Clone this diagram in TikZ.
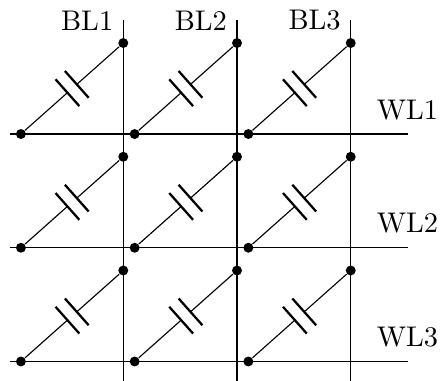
\documentclass[tikz,border=0pt]{standalone}
\usetikzlibrary{calc}

\begin{document}
\begin{tikzpicture}[x=40pt, y=40pt,
        dot/.style={circle, fill, inner sep=0pt, minimum size=3.5pt},
        plate/.style={thick}]
    \useasboundingbox (-0.084,-3.164) rectangle (3.785,0.1785);

    % word lines
    \foreach \j in {1,2,3} {
        \coordinate (wa\j) at (0,-\j);
        \coordinate (wb\j) at (3.5,-\j);
        \draw (wa\j) -- (wb\j);
        \node[above=1.5pt] (WL\j) at (wb\j) {WL\j};
    }

    % bit lines
    \foreach \i in {1,2,3} {
        \coordinate (ba\i) at (\i,0);
        \coordinate (bb\i) at (\i,-3.17);
        \draw (ba\i) -- (bb\i);
        \node[left] (BL\i) at (ba\i) {BL\i};
    }

    % cells
    \foreach \i in {1,2,3} {
        \foreach \j in {1,2,3} {
            \node[dot] (s\i\j) at (\i-0.9,-\j) {};
            \node[dot] (t\i\j) at (\i,-\j+0.8) {};
            \coordinate (m\i\j) at ($(s\i\j)!0.5!(t\i\j)$);
            \coordinate (p\i\j) at ($(m\i\j)!2.2pt!(s\i\j)$);
            \coordinate (q\i\j) at ($(m\i\j)!2.2pt!(t\i\j)$);
            \coordinate (pa\i\j) at ($(p\i\j)!6.3pt!90:(t\i\j)$);
            \coordinate (pb\i\j) at ($(p\i\j)!6.3pt!-90:(t\i\j)$);
            \coordinate (qa\i\j) at ($(q\i\j)!6.3pt!90:(t\i\j)$);
            \coordinate (qb\i\j) at ($(q\i\j)!6.3pt!-90:(t\i\j)$);
            \draw (s\i\j) -- (p\i\j);
            \draw (q\i\j) -- (t\i\j);
            \draw[plate] (pa\i\j) -- (pb\i\j);
            \draw[plate] (qa\i\j) -- (qb\i\j);
        }
    }
\end{tikzpicture}
\end{document}
